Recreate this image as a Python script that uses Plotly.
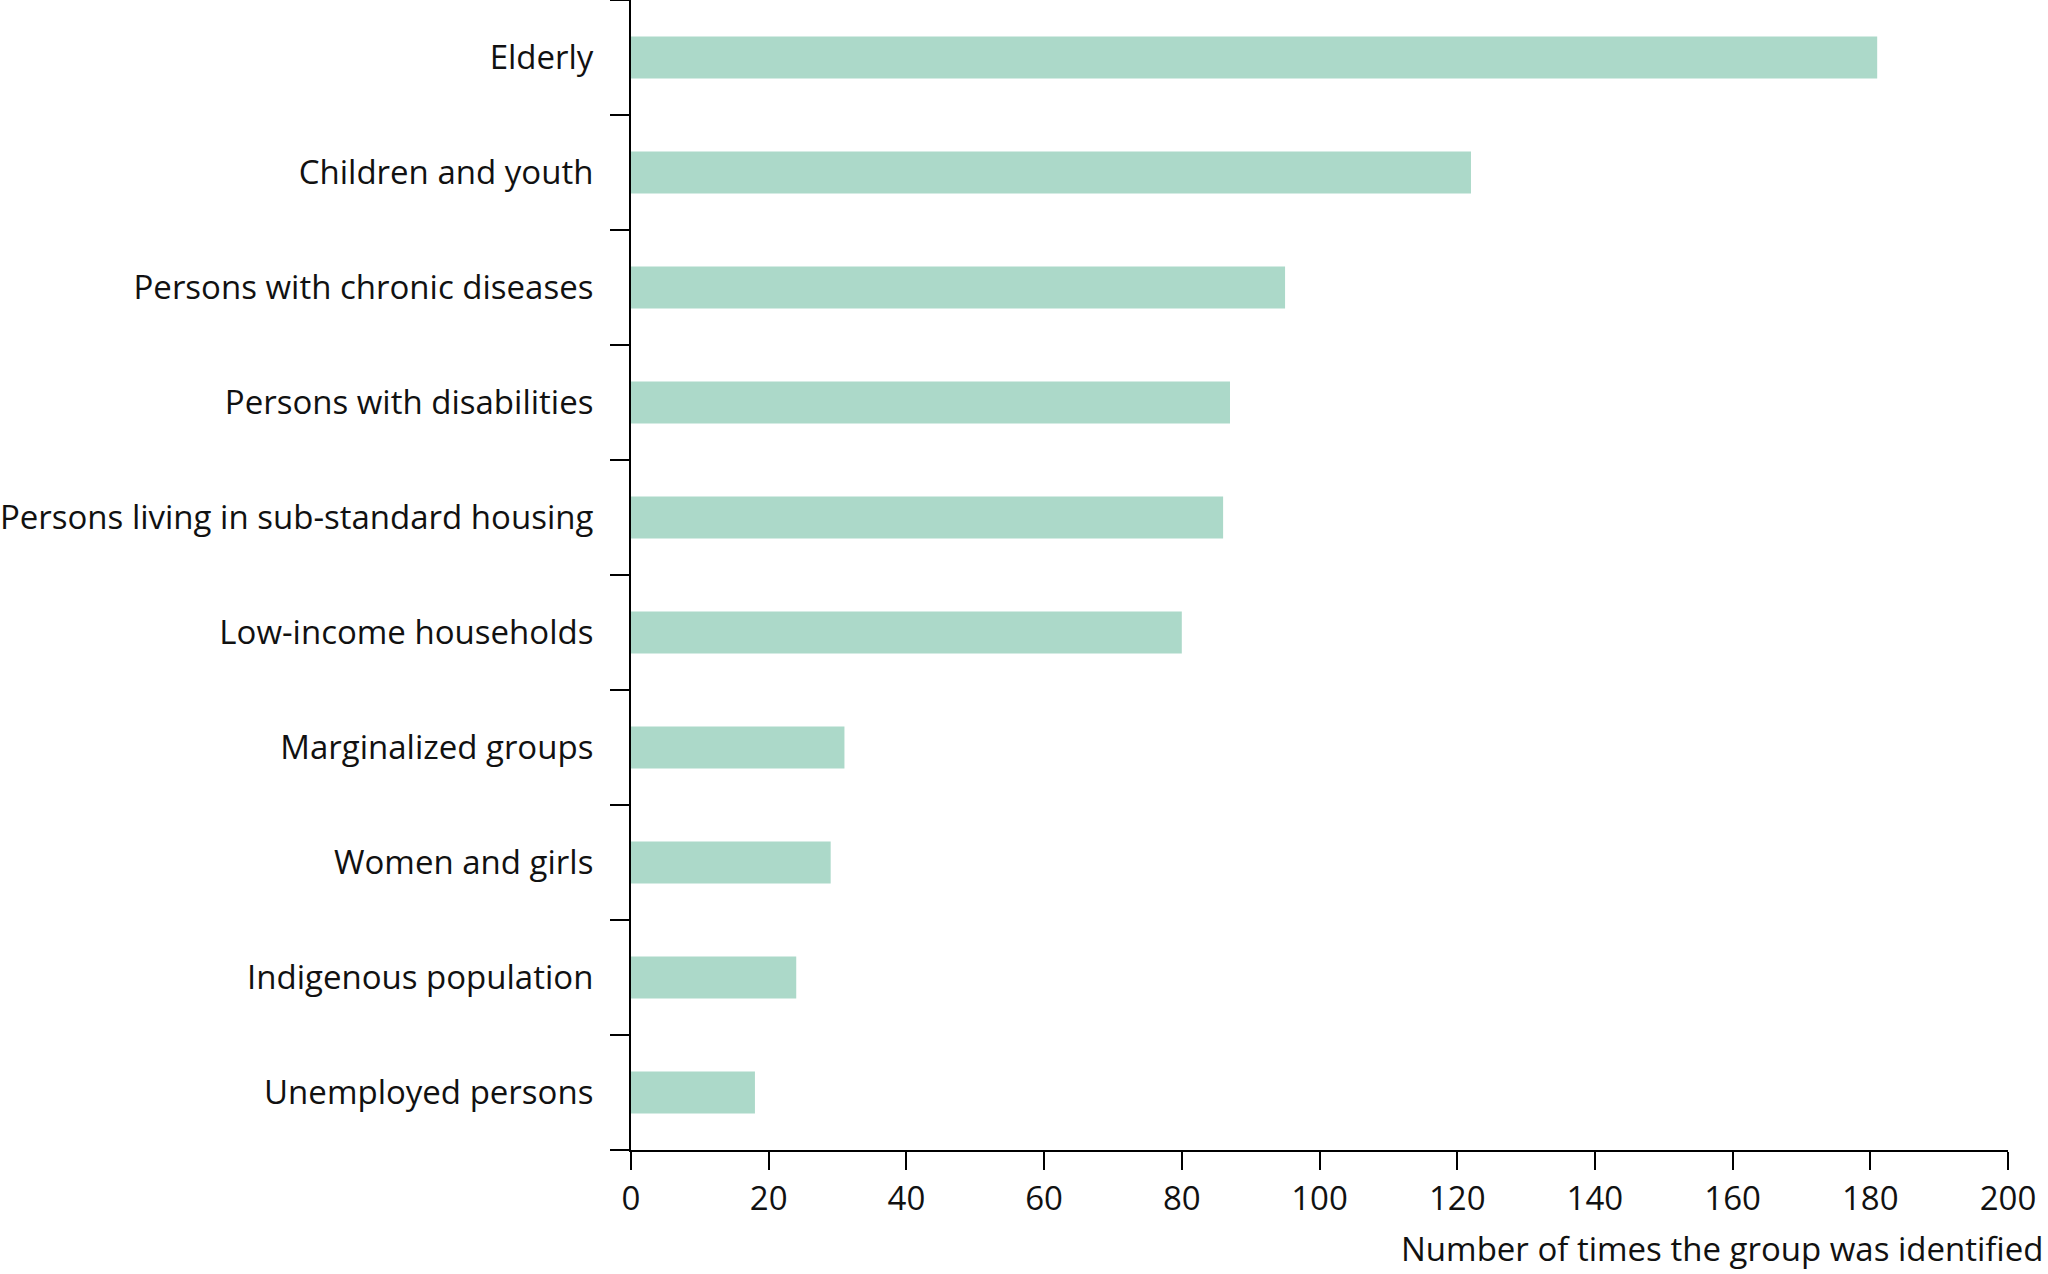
import plotly.graph_objects as go

categories = [
    "Elderly",
    "Children and youth",
    "Persons with chronic diseases",
    "Persons with disabilities",
    "Persons living in sub-standard housing",
    "Low-income households",
    "Marginalized groups",
    "Women and girls",
    "Indigenous population",
    "Unemployed persons",
]
values = [181, 122, 95, 87, 86, 80, 31, 29, 24, 18]
x_ticks = [0, 20, 40, 60, 80, 100, 120, 140, 160, 180, 200]
x_title = "Number of times the group was identified"

fig = go.Figure(
    go.Bar(
        x=values,
        y=categories,
        orientation="h",
        marker=dict(color="#acd9c9", line=dict(width=0)),
        hoverinfo="x+y",
    )
)

font = dict(family="Open Sans, Noto Sans, sans-serif", size=33, color="#111111")

fig.update_layout(
    width=2048,
    height=1274,
    margin=dict(l=631, r=40, t=0, b=124),
    paper_bgcolor="white",
    plot_bgcolor="white",
    bargap=0.635,
    showlegend=False,
    font=font,
    xaxis=dict(
        range=[0, 200],
        tickvals=x_ticks,
        ticktext=[str(v) for v in x_ticks],
        showgrid=False,
        zeroline=False,
        showline=True,
        linecolor="black",
        linewidth=2,
        ticks="outside",
        ticklen=18,
        tickwidth=2,
        tickcolor="black",
        tickfont=dict(size=33),
        fixedrange=True,
    ),
    yaxis=dict(
        categoryorder="array",
        categoryarray=categories[::-1],
        autorange=False,
        range=[-0.5, len(categories) - 0.5],
        showgrid=False,
        zeroline=False,
        showline=True,
        linecolor="black",
        linewidth=2,
        ticks="outside",
        tickson="boundaries",
        ticklen=19,
        tickwidth=2,
        tickcolor="black",
        tickfont=dict(size=33),
        ticklabelstandoff=29,
        fixedrange=True,
    ),
    annotations=[
        dict(
            text=x_title,
            xref="paper",
            yref="paper",
            x=1,
            y=0,
            xanchor="right",
            yanchor="middle",
            xshift=37,
            yshift=-98,
            borderpad=0,
            showarrow=False,
            font=dict(size=33),
        )
    ],
)

fig.write_html(
    "out.html",
    config={"displayModeBar": False},
    post_script="document.body.style.margin='0';document.body.style.overflow='hidden';",
)
